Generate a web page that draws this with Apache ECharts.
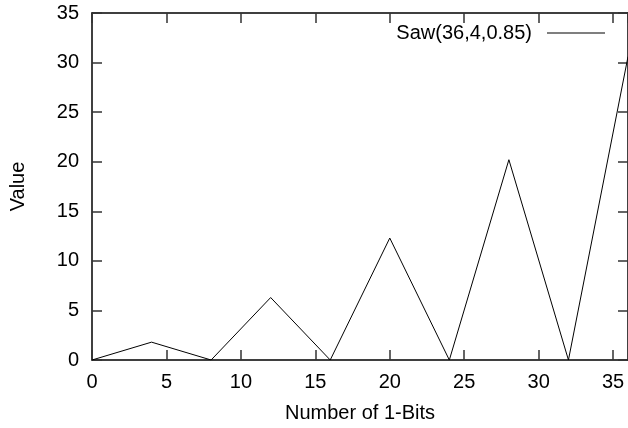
<!DOCTYPE html>
<html>
<head>
    <meta charset="utf-8">
    <title>Saw</title>
    <script src="https://cdn.jsdelivr.net/npm/echarts@6/dist/echarts.min.js"></script>
    <style>
        html, body { margin: 0; padding: 0; background: #fff; }
        #chart1 { width: 628px; height: 428px; }
    </style>
</head>
<body>
    <div id="chart1"></div>
    <script type="text/javascript">
        // data
        var seriesName = 'Saw(36,4,0.85)';
        var bits = [0, 4, 8, 12, 16, 20, 24, 28, 32, 36];
        var values = [0, 1.8, 0, 6.3, 0, 12.3, 0, 20.2, 0, 30.6];

        var points = bits.map(function (b, i) { return [b, values[i]]; });

        var font = '"Liberation Sans", Arial, Helvetica, sans-serif';
        var tickColor = '#333';
        var myChart1 = echarts.init(document.getElementById('chart1'));

        myChart1.setOption({
            animation: false,
            backgroundColor: '#fff',
            textStyle: { fontFamily: font, color: '#000' },
            // right: 0 -- a negative value makes the ticks vanish
            grid: { left: 92, top: 13, right: 0, bottom: 68 },
            legend: {
                data: [seriesName],
                align: 'right',
                right: 18,
                top: 18,
                icon: 'rect',
                itemWidth: 58,
                itemHeight: 1,
                itemStyle: { color: '#000' },
                textStyle: { fontFamily: font, fontSize: 20, color: '#000', padding: [0, 10, 0, 0] }
            },
            xAxis: [{
                type: 'value',
                min: 0, max: 36, interval: 5,
                name: 'Number of 1-Bits',
                nameLocation: 'middle',
                nameGap: 43,
                nameTextStyle: { fontFamily: font, fontSize: 20, color: '#000' },
                axisLine: { show: true, lineStyle: { color: '#000', width: 1.5 } },
                axisTick: { show: true, inside: true, length: 10, lineStyle: { color: tickColor, width: 1.5 } },
                splitLine: { show: false },
                axisLabel: { fontFamily: font, fontSize: 20, color: '#000', margin: 12, showMaxLabel: false }
            }, {
                // mirror ticks along the top border
                type: 'value',
                position: 'top',
                min: 0, max: 36, interval: 5,
                axisLine: { show: true, onZero: false, lineStyle: { color: '#000', width: 1.5 } },
                axisTick: { show: true, inside: true, length: 10, lineStyle: { color: tickColor, width: 1.5 } },
                splitLine: { show: false },
                axisLabel: { show: false }
            }],
            yAxis: [{
                type: 'value',
                min: 0, max: 35, interval: 5,
                name: 'Value',
                nameLocation: 'middle',
                nameRotate: 90,
                nameGap: 64,
                nameTextStyle: { fontFamily: font, fontSize: 20, color: '#000' },
                axisLine: { show: true, lineStyle: { color: '#000', width: 1.5 } },
                axisTick: { show: true, inside: true, length: 10, lineStyle: { color: tickColor, width: 1.5 } },
                splitLine: { show: false },
                axisLabel: { fontFamily: font, fontSize: 20, color: '#000', margin: 13 }
            }, {
                // mirror ticks along the right border
                type: 'value',
                position: 'right',
                min: 0, max: 35, interval: 5,
                axisLine: { show: true, onZero: false, lineStyle: { color: '#000', width: 1.5 } },
                axisTick: { show: true, inside: true, length: 10, lineStyle: { color: tickColor, width: 1.5 } },
                splitLine: { show: false },
                axisLabel: { show: false }
            }],
            series: [{
                name: seriesName,
                type: 'line',
                data: points,
                symbol: 'none',
                color: '#000',
                lineStyle: { color: '#000', width: 1 }
            }]
        });
    </script>
</body>
</html>
